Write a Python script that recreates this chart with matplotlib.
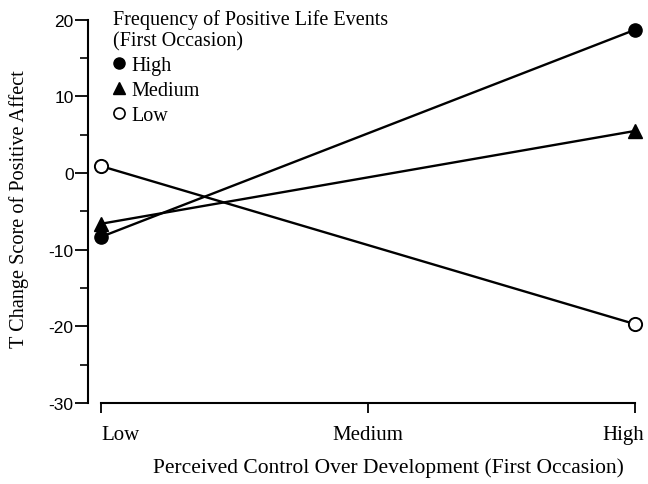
import matplotlib.pyplot as plt
import matplotlib.transforms as mtransforms
from matplotlib.lines import Line2D
from matplotlib.ticker import MultipleLocator

control_levels = ['Low', 'Medium', 'High']
high_events = [-8.3, None, 18.7]
medium_events = [-6.6, None, 5.5]
low_events = [0.9, None, -19.7]


def main():
    plt.rcParams['axes.unicode_minus'] = False
    fig = plt.figure(figsize=(6.48, 4.85), dpi=100)
    ax = fig.add_axes([0.136, 0.167, 0.852, 0.79])

    xs = [0, 2]
    serif = 'Liberation Serif'

    ax.plot(xs, [high_events[0], high_events[2]], color='black', lw=1.7,
            marker='o', ms=9.5, mfc='black', mec='black', clip_on=False, zorder=3)
    ax.plot(xs, [medium_events[0], medium_events[2]], color='black', lw=1.7,
            marker='^', ms=9.5, mfc='black', mec='black', clip_on=False, zorder=3)
    ax.plot(xs, [low_events[0], low_events[2]], color='black', lw=1.7,
            marker='o', ms=9.5, mfc='white', mec='black', mew=1.4, clip_on=False, zorder=4)

    ax.set_xlim(-0.05, 2.02)
    ax.set_ylim(-30, 20)

    ax.spines['top'].set_visible(False)
    ax.spines['right'].set_visible(False)
    ax.spines['bottom'].set_bounds(0, 2)
    ax.spines['left'].set_linewidth(1.5)
    ax.spines['bottom'].set_linewidth(1.5)

    ax.set_xticks([0, 1, 2])
    ax.set_xticklabels(control_levels, fontfamily=serif, fontsize=15)
    ax.yaxis.set_major_locator(MultipleLocator(10))
    ax.yaxis.set_minor_locator(MultipleLocator(5))
    ax.tick_params(axis='y', which='major', length=9.5, width=1.3, labelsize=12.5, pad=1)
    ax.tick_params(axis='y', which='minor', length=6, width=1.2)
    ax.tick_params(axis='x', which='major', length=7, width=1.3, pad=9)
    for lbl in ax.get_yticklabels():
        lbl.set_fontfamily('Liberation Sans')

    xlabels = ax.get_xticklabels()
    xlabels[0].set_ha('left')
    xlabels[2].set_ha('right')
    xlabels[2].set_transform(xlabels[2].get_transform() +
                             mtransforms.ScaledTranslation(9 / 100, 0, fig.dpi_scale_trans))

    fig.text(388 / 648, 1 - 468 / 485,
             'Perceived Control Over Development (First Occasion)',
             fontfamily=serif, fontsize=15.5, ha='center', va='center')
    ax.set_ylabel('T Change Score of Positive Affect',
                  fontfamily=serif, fontsize=14.6)
    ax.yaxis.set_label_coords(-0.108, 0.509)

    handles = [
        Line2D([], [], ls='none', marker='o', ms=8, mfc='black', mec='black'),
        Line2D([], [], ls='none', marker='^', ms=8, mfc='black', mec='black'),
        Line2D([], [], ls='none', marker='o', ms=8, mfc='white', mec='black', mew=1.2),
    ]
    leg = ax.legend(handles, ['High', 'Medium', 'Low'],
                    title='Frequency of Positive Life Events\n(First Occasion)',
                    loc='upper left', bbox_to_anchor=(0.03, 1.05), frameon=False,
                    prop={'family': serif, 'size': 14.5}, handlelength=0.6,
                    handletextpad=0.35, labelspacing=0.28, borderaxespad=0)
    leg.get_title().set_fontfamily(serif)
    leg.get_title().set_fontsize(14.5)
    leg.get_title().set_linespacing(1.2)
    leg._legend_box.align = 'left'

    fig.savefig('out.png', dpi=100)


if __name__ == "__main__":
    main()
